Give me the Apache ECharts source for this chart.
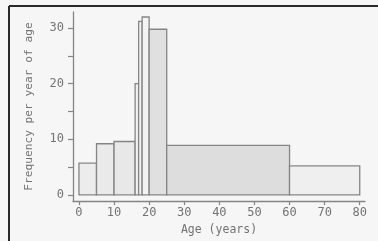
<!DOCTYPE html>
<html><head><meta charset="utf-8">
<script src="https://cdn.jsdelivr.net/npm/echarts@6/dist/echarts.min.js"></script>
<style>html,body{margin:0;padding:0;background:#f6f6f6}#c{width:378px;height:241px}</style>
</head><body><div id="c"></div>
<script>
// Data: variable-width age bins (years) and frequency per year of age
const binStart = [0, 5, 10, 16, 17, 18, 20, 25, 60];
const binEnd   = [5, 10, 16, 17, 18, 20, 25, 60, 80];
const freqPerYear = [5.7, 9.2, 9.6, 20.0, 31.2, 32.0, 29.8, 8.9, 5.2];
const yTickValues = [0, 5, 10, 15, 20, 25, 30];
const yLabelValues = [0, 10, 20, 30];
const xTickValues = [0, 10, 20, 30, 40, 50, 60, 70, 80];

// Styles
const shades = ['#ececec', '#eaeaea', '#e8e8e8', '#f1f1f1', '#f2f2f2', '#f3f3f3', '#e0e0e0', '#dddddd', '#efefef'];
const inkGrey = '#858585';
const textGrey = '#737373';
const font = 'DejaVu Sans Mono';

const chart = echarts.init(document.getElementById('c'), null, {renderer: 'canvas'});
chart.setOption({
  backgroundColor: '#f6f6f6',
  animation: false,
  grid: {left: 73, right: 13, top: 12, bottom: 37, containLabel: false},
  xAxis: {
    type: 'value', min: -1.7, max: 81.5,
    splitLine: {show: false},
    axisLine: {show: true, onZero: false, lineStyle: {color: inkGrey, width: 1.3}},
    axisTick: {show: true, customValues: xTickValues, length: 4, lineStyle: {color: inkGrey, width: 1.2}},
    axisLabel: {customValues: xTickValues, margin: 6, color: textGrey, fontSize: 12, fontFamily: font},
    name: 'Age (years)', nameLocation: 'middle', nameGap: 17,
    nameTextStyle: {color: textGrey, fontSize: 11.5, fontFamily: font}
  },
  yAxis: {
    type: 'value', min: -1.12, max: 32.9,
    splitLine: {show: false},
    axisLine: {show: true, onZero: false, lineStyle: {color: inkGrey, width: 1.3}},
    axisTick: {show: true, customValues: yTickValues, length: 5, lineStyle: {color: inkGrey, width: 1.2}},
    axisLabel: {customValues: yLabelValues, margin: 9, color: textGrey, fontSize: 12, fontFamily: font},
    name: 'Frequency per year of age', nameLocation: 'middle', nameGap: 38,
    nameTextStyle: {color: textGrey, fontSize: 11.2, fontFamily: font}
  },
  graphic: [
    {type: 'line', shape: {x1: 9, y1: 6, x2: 378, y2: 6}, style: {stroke: '#2a2a2a', lineWidth: 2}},
    {type: 'line', shape: {x1: 9, y1: 6, x2: 9, y2: 241}, style: {stroke: '#2a2a2a', lineWidth: 2}}
  ],
  series: [{
    type: 'custom',
    data: binStart.map((s, i) => [s, binEnd[i], freqPerYear[i]]),
    encode: {x: [0, 1], y: 2},
    renderItem: function (params, api) {
      const p0 = api.coord([api.value(0), api.value(2)]);
      const p1 = api.coord([api.value(1), 0]);
      return {
        type: 'rect',
        shape: {x: p0[0], y: p0[1], width: p1[0] - p0[0], height: p1[1] - p0[1]},
        style: {fill: shades[params.dataIndex], stroke: inkGrey, lineWidth: 1.3}
      };
    }
  }]
});
</script></body></html>
